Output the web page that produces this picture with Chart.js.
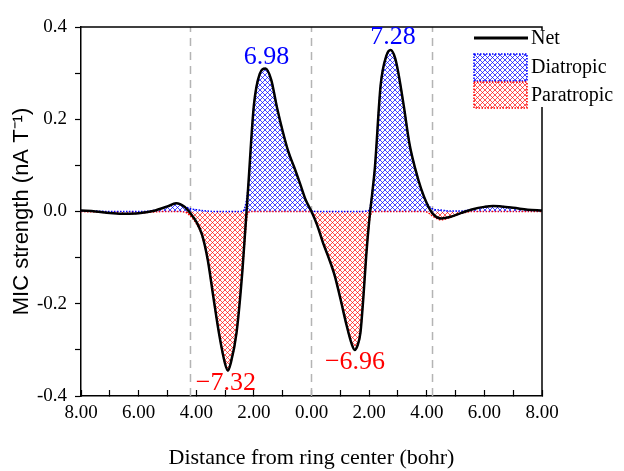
<!DOCTYPE html>
<html>
<head>
<meta charset="utf-8">
<script src="https://cdn.jsdelivr.net/npm/chart.js@4"></script>
<style>
  body { margin: 0; background: #fff; }
</style>
</head>
<body>
<canvas id="micChart" width="624" height="471"></canvas>
<script>
// distance from ring centre (bohr), signed: left half negative
const distance = [
  -8, -7.5, -7, -6.5, -6, -5.5, -5, -4.7, -4.4, -4.2,
  -4.0, -3.8, -3.6, -3.4, -3.2, -3.0, -2.9, -2.8, -2.6, -2.4,
  -2.2, -2.0, -1.8, -1.6, -1.4, -1.2, -1.0, -0.8, -0.6, -0.4,
  -0.2, 0, 0.2, 0.4, 0.6, 0.8, 1.0, 1.2, 1.4, 1.5,
  1.6, 1.7, 1.8, 1.9, 2.0, 2.1, 2.2, 2.4, 2.6, 2.75,
  2.9, 3.0, 3.2, 3.4, 3.6, 3.8, 4.0, 4.2, 4.5, 4.8,
  5.2, 5.6, 6.0, 6.3, 7.0, 7.5, 8
];
const netStrength = [
  0.002, 0.000, -0.003, -0.005, -0.004, 0.001, 0.011, 0.018, 0.010, -0.004,
  -0.022, -0.050, -0.105, -0.188, -0.268, -0.330, -0.345, -0.328, -0.262, -0.130,
  0.050, 0.230, 0.298, 0.310, 0.286, 0.226, 0.174, 0.129, 0.096, 0.061,
  0.025, 0.000, -0.030, -0.068, -0.101, -0.138, -0.188, -0.242, -0.288, -0.300,
  -0.290, -0.262, -0.186, -0.095, -0.022, 0.035, 0.095, 0.274, 0.338, 0.350,
  0.333, 0.305, 0.230, 0.147, 0.093, 0.050, 0.018, -0.004, -0.015, -0.012,
  -0.003, 0.005, 0.010, 0.012, 0.008, 0.004, 0.002
];
const diatropic = [
  0.002, 0.001, 0.000, 0.000, 0.000, 0.002, 0.011, 0.018, 0.011, 0.006,
  0.004, 0.002, 0.001, 0, 0, 0, 0, 0, 0, 0,
  0.052, 0.230, 0.298, 0.310, 0.286, 0.226, 0.174, 0.129, 0.096, 0.061,
  0.025, 0.002, 0, 0, 0, 0, 0, 0, 0, 0,
  0, 0, 0, 0.001, 0.003, 0.037, 0.095, 0.274, 0.338, 0.350,
  0.333, 0.305, 0.230, 0.147, 0.093, 0.050, 0.019, 0.006, 0.003, 0.001,
  0.001, 0.005, 0.010, 0.012, 0.008, 0.004, 0.002
];
const paratropic = [
  0, -0.001, -0.003, -0.005, -0.004, -0.001, 0, 0, -0.001, -0.010,
  -0.026, -0.052, -0.106, -0.188, -0.268, -0.330, -0.345, -0.328, -0.262, -0.130,
  -0.002, 0, 0, 0, 0, 0, 0, 0, 0, 0,
  0, -0.002, -0.030, -0.068, -0.101, -0.138, -0.188, -0.242, -0.288, -0.300,
  -0.290, -0.262, -0.186, -0.096, -0.025, -0.002, 0, 0, 0, 0,
  0, 0, 0, 0, 0, 0, -0.001, -0.010, -0.018, -0.013,
  -0.004, 0, 0, 0, 0, 0, 0
];
const ringEdges = [-4.2, 0, 4.2];
const peakTexts = ['6.98', '7.28', '\u22127.32', '\u22126.96'];
const peakTextX = [-1.56, 2.83, -2.97, 1.51];
const peakTextY = [0.335, 0.378, -0.372, -0.326];

const serif = "'Liberation Serif', 'Times New Roman', serif";

function makeHatch(color) {
    const c = document.createElement('canvas');
    c.width = 5; c.height = 5;
    const g = c.getContext('2d');
    g.strokeStyle = color;
    g.lineWidth = 0.9;
    g.beginPath();
    g.moveTo(0, 0); g.lineTo(5, 5);
    g.moveTo(0, 5); g.lineTo(5, 0);
    g.stroke();
    return g.createPattern(c, 'repeat');
}
const blueHatch = makeHatch('rgba(0, 0, 255, 0.8)');
const redHatch = makeHatch('rgba(255, 0, 0, 0.75)');

function toPoints(ys) {
    return distance.map((x, i) => ({ x: x, y: ys[i] }));
}

const edgeSets = ringEdges.map(e => ({
    data: [{ x: e, y: -0.4 }, { x: e, y: 0.4 }],
    borderColor: '#b4b4b4',
    borderWidth: 1.5,
    borderDash: [8, 6],
    pointRadius: 0,
    fill: false,
    order: 3
}));

const frameAndLegend = {
    id: 'frameAndLegend',
    afterDraw(chart) {
        const { ctx, chartArea: a, scales: { x, y } } = chart;
        ctx.save();
        // top and right frame
        ctx.strokeStyle = '#000';
        ctx.lineWidth = 1.5;
        ctx.setLineDash([]);
        ctx.beginPath();
        ctx.moveTo(a.left, a.top); ctx.lineTo(a.right, a.top); ctx.lineTo(a.right, a.bottom);
        ctx.stroke();

        // peak values
        ctx.font = '26px ' + serif;
        ctx.textAlign = 'center';
        ctx.textBaseline = 'middle';
        peakTexts.forEach((t, i) => {
            ctx.fillStyle = peakTextY[i] > 0 ? '#0000ff' : '#ff0000';
            ctx.fillText(t, x.getPixelForValue(peakTextX[i]), y.getPixelForValue(peakTextY[i]));
        });

        // legend
        ctx.fillStyle = '#fff';
        ctx.fillRect(469, 30, 155, 77);
        ctx.strokeStyle = '#000';
        ctx.lineWidth = 3;
        ctx.beginPath(); ctx.moveTo(474, 38); ctx.lineTo(528, 38); ctx.stroke();

        ctx.lineWidth = 1.5;
        ctx.setLineDash([1.5, 1.5]);
        ctx.fillStyle = blueHatch;
        ctx.fillRect(474, 54, 53, 27);
        ctx.strokeStyle = '#0000ff';
        ctx.strokeRect(474, 54, 53, 27);
        ctx.fillStyle = redHatch;
        ctx.fillRect(474, 82, 53, 26);
        ctx.strokeStyle = '#ff0000';
        ctx.strokeRect(474, 82, 53, 26);

        ctx.fillStyle = '#000';
        ctx.font = '20px ' + serif;
        ctx.textAlign = 'left';
        ctx.fillText('Net', 531, 39);
        ctx.fillText('Diatropic', 531, 68);
        ctx.fillText('Paratropic', 531, 96);
        ctx.restore();
    }
};

const chart = new Chart(document.getElementById('micChart'), {
    type: 'line',
    data: {
        datasets: [
            {
                label: 'Net',
                data: toPoints(netStrength),
                borderColor: '#000',
                borderWidth: 2.5,
                pointRadius: 0,
                fill: false,
                cubicInterpolationMode: 'monotone',
                order: 0
            },
            {
                label: 'Diatropic',
                data: toPoints(diatropic),
                borderColor: '#0000ff',
                borderWidth: 1.5,
                borderDash: [1.5, 1.5],
                backgroundColor: blueHatch,
                pointRadius: 0,
                fill: 'origin',
                cubicInterpolationMode: 'monotone',
                order: 1
            },
            {
                label: 'Paratropic',
                data: toPoints(paratropic),
                borderColor: '#ff0000',
                borderWidth: 1.5,
                borderDash: [1.5, 1.5],
                backgroundColor: redHatch,
                pointRadius: 0,
                fill: 'origin',
                cubicInterpolationMode: 'monotone',
                order: 2
            }
        ].concat(edgeSets)
    },
    options: {
        responsive: false,
        animation: false,
        layout: { padding: { left: 0, right: 82, top: 27, bottom: 0 } },
        plugins: {
            legend: { display: false },
            tooltip: { enabled: false }
        },
        scales: {
            x: {
                type: 'linear',
                min: -8,
                max: 8,
                afterFit(scale) { scale.height = 75; },
                ticks: {
                    stepSize: 1,
                    autoSkip: false,
                    maxRotation: 0,
                    padding: 12,
                    color: '#000',
                    font: { family: serif, size: 19 },
                    callback: v => (v % 2 === 0 ? Math.abs(v).toFixed(2) : '')
                },
                grid: {
                    drawOnChartArea: false,
                    tickLength: -6,
                    tickColor: '#000',
                    tickWidth: 1.2
                },
                border: { color: '#000', width: 1.5 },
                title: {
                    display: true,
                    text: 'Distance from ring center (bohr)',
                    color: '#000',
                    font: { family: serif, size: 22 },
                    padding: { top: 0, bottom: 0 }
                }
            },
            y: {
                min: -0.4,
                max: 0.4,
                afterFit(scale) { scale.width = 81; },
                ticks: {
                    stepSize: 0.1,
                    autoSkip: false,
                    padding: 8,
                    color: '#000',
                    font: { family: serif, size: 19 },
                    callback: v => (Math.round(v * 10) % 2 === 0 ? v.toFixed(1) : '')
                },
                grid: {
                    drawOnChartArea: false,
                    tickLength: 6,
                    tickColor: '#000',
                    tickWidth: 1.2
                },
                border: { color: '#000', width: 1.5 },
                title: {
                    display: true,
                    text: 'MIC strength (nA T\u207B\u00B9)',
                    color: '#000',
                    font: { family: "'Liberation Sans', Arial, sans-serif", size: 22 },
                    padding: { top: 9, bottom: 0 }
                }
            }
        }
    },
    plugins: [frameAndLegend]
});
</script>
</body>
</html>
